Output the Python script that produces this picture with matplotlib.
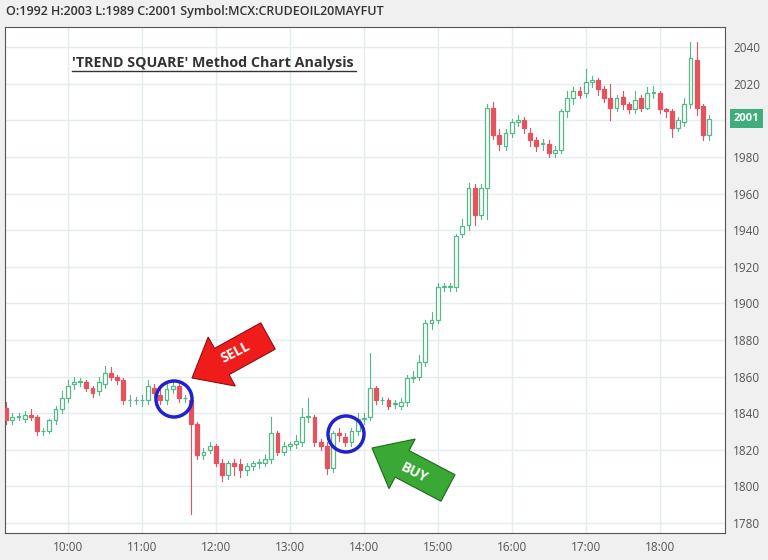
import numpy as np
import pandas as pd
import matplotlib
matplotlib.use("Agg")
import matplotlib.pyplot as plt
from matplotlib.patches import Rectangle, Polygon, Ellipse

plt.rcParams['font.family'] = ['Open Sans', 'DejaVu Sans']

# 5-minute candles, MCX crude oil
opens = [1843, 1836, 1838, 1837, 1839, 1838, 1830, 1830, 1836, 1842,
         1848, 1856, 1857, 1857, 1854, 1852, 1856, 1862, 1860, 1858,
         1847, 1847, 1847, 1847, 1854, 1850, 1847, 1853, 1855, 1848,
         1847, 1834, 1817, 1820, 1822, 1813, 1806, 1813, 1812, 1809,
         1811, 1813, 1813, 1815, 1829, 1819, 1822, 1823, 1824, 1838,
         1838, 1824, 1822, 1810, 1829, 1827, 1824, 1830, 1837, 1838,
         1854, 1847, 1847, 1845, 1844, 1846, 1859, 1860, 1868, 1889,
         1891, 1909, 1909, 1909, 1938, 1943, 1963, 1948, 1963, 2007,
         1992, 1986, 1993, 1999, 2000, 1993, 1989, 1987, 1987, 1982,
         1984, 2005, 2012, 2016, 2015, 2021, 2022, 2017, 2012, 2007,
         2013, 2009, 2006, 2012, 2007, 2015, 2015, 2006, 2005, 1996,
         1999, 2009, 2033, 2008, 1992]
closes = [1836, 1838, 1838, 1839, 1838, 1830, 1830, 1836, 1842, 1848,
          1855, 1857, 1857, 1854, 1851, 1857, 1862, 1860, 1858, 1847,
          1847, 1847, 1847, 1855, 1851, 1847, 1853, 1855, 1848, 1848,
          1834, 1817, 1819, 1822, 1813, 1806, 1813, 1811, 1809, 1811,
          1813, 1813, 1815, 1829, 1819, 1822, 1823, 1825, 1838, 1838,
          1824, 1822, 1810, 1829, 1828, 1824, 1830, 1837, 1837, 1854,
          1847, 1847, 1844, 1845, 1846, 1859, 1860, 1868, 1889, 1891,
          1909, 1909, 1909, 1937, 1942, 1963, 1948, 1963, 2007, 1992,
          1987, 1993, 1999, 2000, 1996, 1989, 1986, 1987, 1982, 1984,
          2005, 2012, 2016, 2014, 2021, 2022, 2017, 2012, 2007, 2012,
          2009, 2006, 2011, 2007, 2015, 2015, 2006, 2005, 1996, 2000,
          2009, 2034, 2007, 1992, 2001]
highs = [1846, 1840, 1840, 1841, 1842, 1839, 1832, 1837, 1844, 1852,
         1858, 1860, 1859, 1858, 1855, 1860, 1866, 1865, 1861, 1859,
         1850, 1849, 1850, 1858, 1856, 1853, 1856, 1858, 1857, 1850,
         1849, 1835, 1821, 1824, 1823, 1815, 1814, 1815, 1815, 1813,
         1814, 1815, 1817, 1838, 1830, 1824, 1824, 1828, 1843, 1848,
         1839, 1826, 1824, 1830, 1832, 1829, 1832, 1840, 1840, 1873,
         1855, 1849, 1848, 1847, 1848, 1861, 1863, 1872, 1891, 1895,
         1911, 1911, 1911, 1938, 1946, 1966, 1965, 1965, 2009, 2010,
         1995, 1995, 2001, 2003, 2002, 1996, 1991, 1990, 1989, 1986,
         2006, 2016, 2018, 2018, 2028, 2024, 2023, 2019, 2020, 2014,
         2016, 2010, 2016, 2014, 2018, 2019, 2016, 2007, 2006, 2002,
         2012, 2043, 2043, 2009, 2003]
lows = [1834, 1834, 1836, 1835, 1836, 1828, 1828, 1829, 1834, 1840,
        1846, 1853, 1855, 1852, 1849, 1850, 1854, 1858, 1856, 1845,
        1844, 1845, 1844, 1845, 1849, 1845, 1845, 1851, 1846, 1846,
        1785, 1815, 1815, 1818, 1811, 1803, 1804, 1806, 1805, 1806,
        1809, 1810, 1811, 1813, 1817, 1817, 1820, 1821, 1822, 1835,
        1822, 1820, 1807, 1808, 1825, 1822, 1822, 1828, 1834, 1836,
        1845, 1845, 1842, 1843, 1842, 1844, 1857, 1858, 1866, 1886,
        1889, 1907, 1907, 1907, 1936, 1940, 1943, 1946, 1946, 1990,
        1984, 1984, 1991, 1997, 1993, 1986, 1983, 1984, 1980, 1980,
        1982, 2002, 2009, 2012, 2013, 2018, 2014, 2010, 2000, 2005,
        2006, 2004, 2004, 2005, 2006, 2012, 2004, 2002, 1991, 1994,
        1997, 2007, 2003, 1989, 1989]

yticks = [1780, 1800, 1820, 1840, 1860, 1880, 1900, 1920, 1940, 1960, 1980, 2000, 2020, 2040]
ylabels = [str(v) if v != 2000 else "" for v in yticks]  # 2000 hidden under the price tag

times = pd.date_range("2020-05-01 09:10", periods=len(opens), freq="5min")
xs = times.hour + times.minute / 60.0

UP = '#53b987'
DOWN = '#e5535f'
W = 0.052

fig = plt.figure(figsize=(7.68, 5.6), dpi=100, facecolor='#f0f0f0')
ax = fig.add_axes([5 / 768, 1 - 533 / 560, 720 / 768, 506 / 560])
ax.set_facecolor('white')

for x, o, h, l, c in zip(xs, opens, highs, lows, closes):
    col = UP if c >= o else DOWN
    top, bot = max(o, c), min(o, c)
    ax.plot([x, x], [top, h], color=col, lw=0.8, zorder=2)
    ax.plot([x, x], [l, bot], color=col, lw=0.8, zorder=2)
    hgt = max(top - bot, 0.4)
    face = 'white' if c >= o else col
    ax.add_patch(Rectangle((x - W / 2, bot), W, hgt, facecolor=face,
                           edgecolor=col, lw=0.9, zorder=3))

ax.set_xlim(9 + 9 / 60, 18 + 53 / 60)
ax.set_ylim(1774.5, 2051)
ax.set_xticks(range(10, 19))
ax.set_xticklabels([f"{h}:00" for h in range(10, 19)])
ax.set_yticks(yticks)
ax.set_yticklabels(ylabels)
ax.yaxis.tick_right()
ax.grid(True, color='#e4edef', lw=1)
ax.set_axisbelow(True)
ax.tick_params(length=0, labelsize=8.5, colors='#555555', pad=6)
for s in ax.spines.values():
    s.set_color('#555555')
    s.set_linewidth(0.8)

# last price label
ax.text(1.012, (2001 - 1774.5) / (2051 - 1774.5), "2001", transform=ax.transAxes,
        ha='left', va='center', fontsize=8, color='white', weight='bold',
        bbox=dict(boxstyle='square,pad=0.35', fc='#3fae7c', ec='none'))

# header
fig.text(6 / 768, 1 - 12 / 560, "O:1992 H:2003 L:1989 C:2001 Symbol:MCX:CRUDEOIL20MAYFUT",
         fontsize=9, color='#333333', weight='semibold', va='center')

# title
fig.text(72 / 768, 1 - 63 / 560, "'TREND SQUARE' Method Chart Analysis",
         fontsize=10.3, color='#333333', weight='bold', va='center')
fig.add_artist(plt.Line2D([72 / 768, 356 / 768], [1 - 71 / 560, 1 - 71 / 560],
                          color='#333333', lw=1, transform=fig.transFigure))


def px(x, y):
    return (x / 768, 1 - y / 560)


def arrow(tail, tip, shaft, head_w, head_l, color, edge):
    t = np.array(tail, float)
    p = np.array(tip, float)
    d = (p - t) / np.linalg.norm(p - t)
    n = np.array([-d[1], d[0]])
    b = p - d * head_l
    pts = [t + n * shaft / 2, b + n * shaft / 2, b + n * head_w / 2, p,
           b - n * head_w / 2, b - n * shaft / 2, t - n * shaft / 2]
    fig.add_artist(Polygon([px(*q) for q in pts], closed=True, facecolor=color,
                           edgecolor=edge, lw=0.8, transform=fig.transFigure, zorder=10))


arrow((268, 336), (192, 378), 30, 56, 34, '#f01c1c', '#8a1010')
fig.text(*px(235, 352), "SELL", rotation=27, fontsize=10, color='white',
         weight='bold', ha='center', va='center', zorder=11)
arrow((448, 488), (372, 448), 30, 56, 34, '#3aa835', '#1d6a1a')
fig.text(*px(414, 473), "BUY", rotation=-27, fontsize=10, color='white',
         weight='bold', ha='center', va='center', zorder=11)

for cx, cy in [(174, 399), (346, 434)]:
    fig.add_artist(Ellipse(px(cx, cy), 36 / 768, 36 / 560, facecolor='none',
                           edgecolor='#2222cc', lw=2.5, transform=fig.transFigure,
                           zorder=10))

fig.savefig("out.png", dpi=100, facecolor=fig.get_facecolor())
